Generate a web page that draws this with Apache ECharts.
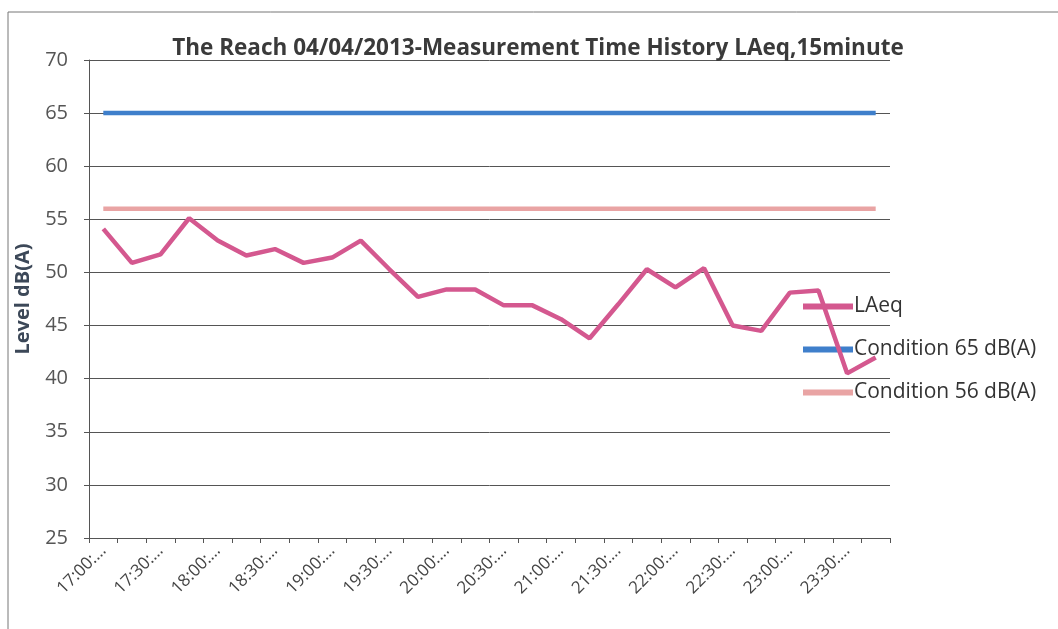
<!DOCTYPE html>
<html>
<head>
<meta charset="utf-8">
<script src="https://cdn.jsdelivr.net/npm/echarts@6/dist/echarts.min.js"></script>
<style>
html,body{margin:0;padding:0;background:#fff;}
#c{width:1058px;height:629px;}
</style>
</head>
<body>
<div id="c"></div>
<script>
var titleText = 'The Reach 04/04/2013-Measurement Time History LAeq,15minute';
var categories = ['17:00:00','17:15:00','17:30:00','17:45:00','18:00:00','18:15:00','18:30:00','18:45:00',
  '19:00:00','19:15:00','19:30:00','19:45:00','20:00:00','20:15:00','20:30:00','20:45:00',
  '21:00:00','21:15:00','21:30:00','21:45:00','22:00:00','22:15:00','22:30:00','22:45:00',
  '23:00:00','23:15:00','23:30:00','23:45:00'];
var laeq = [54.1, 50.9, 51.7, 55.1, 53.0, 51.6, 52.2, 50.9, 51.4, 53.0, 50.3, 47.7, 48.4, 48.4,
  46.9, 46.9, 45.6, 43.8, 47.0, 50.3, 48.6, 50.4, 45.0, 44.5, 48.1, 48.3, 40.5, 42.0];
var cond65 = [65,65,65,65,65,65,65,65,65,65,65,65,65,65,65,65,65,65,65,65,65,65,65,65,65,65,65,65];
var cond56 = [56,56,56,56,56,56,56,56,56,56,56,56,56,56,56,56,56,56,56,56,56,56,56,56,56,56,56,56];
var seriesNames = ['LAeq', 'Condition 65 dB(A)', 'Condition 56 dB(A)'];
var yName = 'Level dB(A)';

var font = '"Open Sans", Lato, sans-serif';
var chart = echarts.init(document.getElementById('c'));
chart.setOption({
  animation: false,
  backgroundColor: '#fff',
  textStyle: {fontFamily: font},
  graphic: [{
    type: 'rect', shape: {x: 8, y: 12, width: 1060, height: 630},
    style: {fill: 'none', stroke: '#777', lineWidth: 1}, silent: true, z: -1
  }],
  title: {
    text: titleText, left: 533, top: 32, textAlign: 'center',
    textStyle: {fontFamily: font, fontSize: 22.5, fontWeight: 'bold', color: '#3a3a3a'}
  },
  legend: {
    orient: 'vertical', left: 798, top: 291, itemGap: 22, itemWidth: 50, itemHeight: 6,
    icon: 'rect',
    data: seriesNames,
    textStyle: {fontFamily: font, fontSize: 21, color: '#333', padding: [0,0,0,-4]}
  },
  grid: {left: 89, right: 168, top: 60, bottom: 91, containLabel: false},
  xAxis: {
    type: 'category', data: categories, boundaryGap: true,
    axisLine: {lineStyle: {color: '#555', width: 1}},
    axisTick: {show: true, length: 5, interval: 0, lineStyle: {color: '#555'}},
    axisLabel: {
      interval: 1, rotate: 45, fontSize: 17, color: '#444', fontFamily: font, margin: 10,
      formatter: function (v) { return v.slice(0, 6) + '\u2026'; }
    },
    splitLine: {show: false}
  },
  yAxis: {
    type: 'value', min: 25, max: 70, interval: 5,
    name: yName, nameLocation: 'middle', nameGap: 56, nameRotate: 90,
    nameTextStyle: {fontFamily: font, fontSize: 20, fontWeight: 'bold', color: '#3c4858'},
    axisLine: {show: true, lineStyle: {color: '#555', width: 1}},
    axisTick: {show: true, length: 5, lineStyle: {color: '#555'}},
    axisLabel: {fontSize: 20, color: '#555', fontFamily: font, margin: 21},
    splitLine: {show: true, lineStyle: {color: '#555', width: 1}}
  },
  series: [
    {name: seriesNames[0], type: 'line', data: laeq, symbol: 'none', z: 4,
     lineStyle: {color: '#d4588f', width: 4.5}, itemStyle: {color: '#d4588f'}},
    {name: seriesNames[1], type: 'line', data: cond65, symbol: 'none', z: 3,
     lineStyle: {color: '#3f7fcb', width: 4.5}, itemStyle: {color: '#3f7fcb'}},
    {name: seriesNames[2], type: 'line', data: cond56, symbol: 'none', z: 3,
     lineStyle: {color: '#e9a4a4', width: 4.5}, itemStyle: {color: '#e9a4a4'}}
  ]
});
</script>
</body>
</html>
